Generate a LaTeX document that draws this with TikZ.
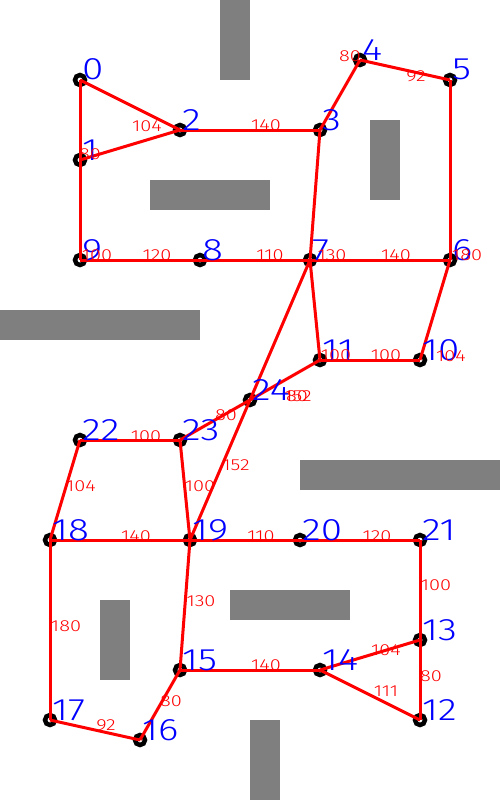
\documentclass[tikz,border=0pt]{standalone}
\usepackage{fontspec}
\newfontfamily\thinf{Fira Sans Light}[FakeStretch=1.25]
\definecolor{obgray}{RGB}{127,127,127}
\begin{document}
\begin{tikzpicture}[x=1pt,y=-1pt,
  obst/.style={fill=obgray,draw=none},
  edge/.style={draw=red,line width=3pt},
  vtx/.style={circle,draw=black,fill=white,line width=4.5pt,minimum size=10pt,inner sep=0pt},
  vid/.style={anchor=base west,inner sep=0pt,text=blue,font=\thinf\fontsize{31}{31}\selectfont},
  wlab/.style={inner sep=0pt,text=red,font=\thinf\fontsize{16}{16}\selectfont}]
\useasboundingbox[fill=white] (0,0) rectangle (500,800);
% obstacles
\fill[obst] (220,0) rectangle (250,80);
\fill[obst] (150,180) rectangle (270,210);
\fill[obst] (370,120) rectangle (400,200);
\fill[obst] (0,310) rectangle (200,340);
\fill[obst] (300,460) rectangle (500,490);
\fill[obst] (230,590) rectangle (350,620);
\fill[obst] (100,600) rectangle (130,680);
\fill[obst] (250,720) rectangle (280,800);
% vertices
\foreach \i/\x/\y in {0/80/80,1/80/160,2/180/130,3/320/130,4/360/60,5/450/80,6/450/260,7/310/260,8/200/260,9/80/260,10/420/360,11/320/360,12/420/720,13/420/640,14/320/670,15/180/670,16/140/740,17/50/720,18/50/540,19/190/540,20/300/540,21/420/540,22/80/440,23/180/440,24/250/400}
  {\node[vtx] (n\i) at (\x,\y) {};}
% edges
\foreach \a/\b in {0/1,1/9,0/2,1/2,2/3,3/4,4/5,5/6,3/7,9/8,8/7,7/6,6/10,10/11,11/7,7/24,11/24,24/23,24/19,23/22,23/19,22/18,18/19,19/20,20/21,21/13,13/12,13/14,14/12,15/14,19/15,15/16,16/17,17/18}
  {\draw[edge] (n\a.center) -- (n\b.center);}
% vertex ids
\foreach \i/\x/\y in {0/80/80,1/80/160,2/180/130,3/320/130,4/360/60,5/450/80,6/450/260,7/310/260,8/200/260,9/80/260,10/420/360,11/320/360,12/420/720,13/420/640,14/320/670,15/180/670,16/140/740,17/50/720,18/50/540,19/190/540,20/300/540,21/420/540,22/80/440,23/180/440,24/250/400}
  {\node[vid] (t\i) at (\x+2,\y) {\i};}
% weights
\node[wlab] (w02) at (147,126) {104};
\node[wlab] (w12) at (90,154) {80};
\node[wlab] (w19) at (97,255) {100};
\node[wlab] (w98) at (157,255) {120};
\node[wlab] (w23) at (266,125) {140};
\node[wlab] (w34) at (350,56) {80};
\node[wlab] (w45) at (416,76) {92};
\node[wlab] (w87) at (270,255) {110};
\node[wlab] (w37) at (332,255) {130};
\node[wlab] (w76) at (396,255) {140};
\node[wlab] (w56) at (467,255) {180};
\node[wlab] (w117) at (336,355) {100};
\node[wlab] (w1011) at (386,355) {100};
\node[wlab] (w610) at (451,356) {104};
\node[wlab] (w724) at (298,396) {152};
\node[wlab] (w1124) at (297,396) {80};
\node[wlab] (w2423) at (226,415) {80};
\node[wlab] (w2419) at (236,465) {152};
\node[wlab] (w2319) at (200,486) {100};
\node[wlab] (w2223) at (146,436) {100};
\node[wlab] (w2218) at (81,486) {104};
\node[wlab] (w1819) at (136,536) {140};
\node[wlab] (w1920) at (261,536) {110};
\node[wlab] (w2021) at (377,536) {120};
\node[wlab] (w2113) at (436,585) {100};
\node[wlab] (w1413) at (386,650) {104};
\node[wlab] (w1312) at (431,676) {80};
\node[wlab] (w1412) at (386,691) {111};
\node[wlab] (w1514) at (266,665) {140};
\node[wlab] (w1915) at (201,601) {130};
\node[wlab] (w1817) at (66,626) {180};
\node[wlab] (w1516) at (171,701) {80};
\node[wlab] (w1716) at (106,725) {92};
\end{tikzpicture}
\end{document}
